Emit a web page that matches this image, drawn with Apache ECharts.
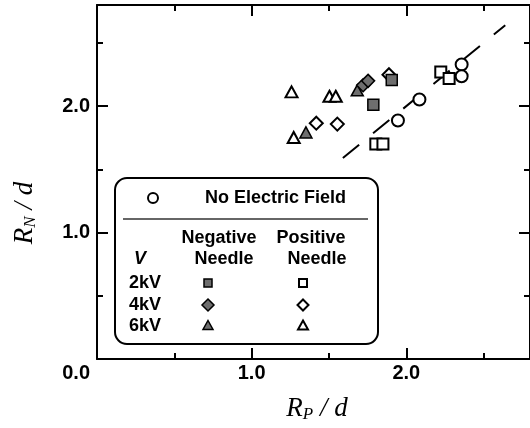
<!DOCTYPE html>
<html>
<head>
<meta charset="utf-8">
<script src="https://cdn.jsdelivr.net/npm/echarts@6/dist/echarts.min.js"></script>
<style>
html,body{margin:0;padding:0;background:#fff;}
#chart{width:530px;height:428px;}
</style>
</head>
<body>
<div id="chart"></div>
<script>
// ---- data (R_P/d, R_N/d) ----
const noField      = [[1.946,1.887],[2.085,2.052],[2.358,2.329],[2.358,2.236]];
const neg2kV       = [[1.787,2.012],[1.906,2.207]];
const pos2kV       = [[1.803,1.700],[1.849,1.700],[2.223,2.271],[2.277,2.218]];
const neg4kV       = [[1.721,2.165],[1.753,2.200]];
const pos4kV       = [[1.418,1.865],[1.554,1.858],[1.888,2.248]];
const neg6kV       = [[1.351,1.792],[1.683,2.125]];
const pos6kV       = [[1.258,2.113],[1.503,2.078],[1.544,2.078],[1.272,1.752]];
const refLine      = [[1.59,1.59],[2.64,2.64]];
const axisMin = 0, axisMax = 2.8, axisInterval = 1;
const tickLabels = ['0.0','1.0','2.0'];

const SANS = '"Liberation Sans", Arial, Helvetica, sans-serif';
const SERIF = '"Liberation Serif", "Times New Roman", serif';
const GRAY = '#6e6e6e';
const FW = 'bold';

function makeAxis(pos, showLabel, isX) {
  return {
    type: 'value', position: pos, min: axisMin, max: axisMax, interval: axisInterval,
    axisLine: {show: true, onZero: false, lineStyle: {color: '#000', width: 2}},
    axisTick: {show: true, inside: true, length: 11, lineStyle: {color: '#000', width: 2}},
    minorTick: {show: true, splitNumber: 2, length: 6, lineStyle: {color: '#000', width: 2}},
    splitLine: {show: false}, minorSplitLine: {show: false},
    axisLabel: {
      show: showLabel, color: '#000', fontSize: 20, fontWeight: FW, fontFamily: SANS,
      margin: isX ? 4 : 7,
      showMaxLabel: false,
      formatter: function (v) {
        if (v > 0 && Math.abs(v - Math.round(v)) < 1e-9) return tickLabels[Math.round(v)] || v.toFixed(1);
        return '';
      }
    }
  };
}

function sc(name, data, symbol, size, filled) {
  return {
    name: name, type: 'scatter', data: data, symbol: symbol, symbolSize: size, z: 3,
    itemStyle: {color: filled ? GRAY : '#fff', borderColor: '#000', borderWidth: filled ? 1.5 : 2, opacity: 1},
    emphasis: {disabled: true}
  };
}

function txt(x, y, s, align, extra) {
  return {type: 'text', x: x, y: y, z: 11, style: Object.assign({
    text: s, fontSize: 18, fontWeight: FW, fontFamily: SANS, fill: '#000',
    align: align || 'center', verticalAlign: 'middle'}, extra || {})};
}

const chart = echarts.init(document.getElementById('chart'), null, {renderer: 'canvas'});

const negX = 208, posX = 303;
const titleRich = {
  a: {fontSize: 27, fontStyle: 'italic', fontFamily: SERIF, fill: '#000'},
  s: {fontSize: 17, fontStyle: 'italic', fontFamily: SERIF, fill: '#000', padding: [11, 0, 0, 0]}
};
const legendItems = [
  {type: 'rect', shape: {x: 115, y: 178, width: 263, height: 166, r: 12},
   style: {fill: '#fff', stroke: '#000', lineWidth: 2}, z: 10},
  {type: 'line', shape: {x1: 123, y1: 219, x2: 368, y2: 219},
   style: {stroke: '#333', lineWidth: 1.5}, z: 11},
  {type: 'circle', shape: {cx: 153, cy: 198, r: 5}, style: {fill: '#fff', stroke: '#000', lineWidth: 2}, z: 11},
  txt(205, 198, 'No Electric Field', 'left'),
  txt(219, 238, 'Negative'),
  txt(224, 259, 'Needle'),
  txt(311, 238, 'Positive'),
  txt(317, 259, 'Needle'),
  txt(140, 259, 'V', 'center', {fontStyle: 'italic'}),
  txt(145, 283, '2kV'),
  txt(145, 305, '4kV'),
  txt(145, 326, '6kV'),
  {type: 'rect', shape: {x: negX - 4, y: 279, width: 8, height: 8}, style: {fill: GRAY, stroke: '#000', lineWidth: 1.5}, z: 11},
  {type: 'rect', shape: {x: posX - 4, y: 279, width: 8, height: 8}, style: {fill: '#fff', stroke: '#000', lineWidth: 2}, z: 11},
  {type: 'polygon', shape: {points: [[negX, 299], [negX + 6, 305], [negX, 311], [negX - 6, 305]]}, style: {fill: GRAY, stroke: '#000', lineWidth: 1.5}, z: 11},
  {type: 'polygon', shape: {points: [[posX, 299.5], [posX + 5.5, 305], [posX, 310.5], [posX - 5.5, 305]]}, style: {fill: '#fff', stroke: '#000', lineWidth: 2}, z: 11},
  {type: 'polygon', shape: {points: [[negX, 320.5], [negX + 5, 329.5], [negX - 5, 329.5]]}, style: {fill: GRAY, stroke: '#000', lineWidth: 1.5}, z: 11},
  {type: 'polygon', shape: {points: [[posX, 320.5], [posX + 5, 329.5], [posX - 5, 329.5]]}, style: {fill: '#fff', stroke: '#000', lineWidth: 2}, z: 11},
  txt(90, 373, tickLabels[0], 'right', {fontSize: 20}),
  {type: 'text', x: 317, y: 409, z: 11, style: {
    text: '{a|R}{s|P}{a| / d}', align: 'center', verticalAlign: 'middle', rich: titleRich}},
  {type: 'text', x: 25, y: 213, rotation: Math.PI / 2, z: 11, style: {
    text: '{a|R}{s|N}{a| / d}', align: 'center', verticalAlign: 'middle', rich: titleRich}}
];

chart.setOption({
  animation: false,
  backgroundColor: '#fff',
  grid: {left: 97, right: -3, top: 5, bottom: 69, containLabel: false},
  xAxis: [makeAxis('bottom', true, true), makeAxis('top', false, true)],
  yAxis: [makeAxis('left', true, false), makeAxis('right', false, false)],
  series: [
    {type: 'line', data: refLine, symbol: 'none', z: 1, silent: true,
     lineStyle: {color: '#000', width: 2, type: [21, 18]}},
    sc('pos6kV', pos6kV, 'triangle', [12, 11], false),
    sc('neg6kV', neg6kV, 'triangle', [12, 11], true),
    sc('pos4kV', pos4kV, 'diamond', 13, false),
    sc('neg4kV', neg4kV, 'diamond', 13, true),
    sc('pos2kV', pos2kV, 'rect', 11, false),
    sc('neg2kV', neg2kV, 'rect', 11, true),
    sc('noField', noField, 'circle', 12, false)
  ],
  graphic: legendItems
});
</script>
</body>
</html>
